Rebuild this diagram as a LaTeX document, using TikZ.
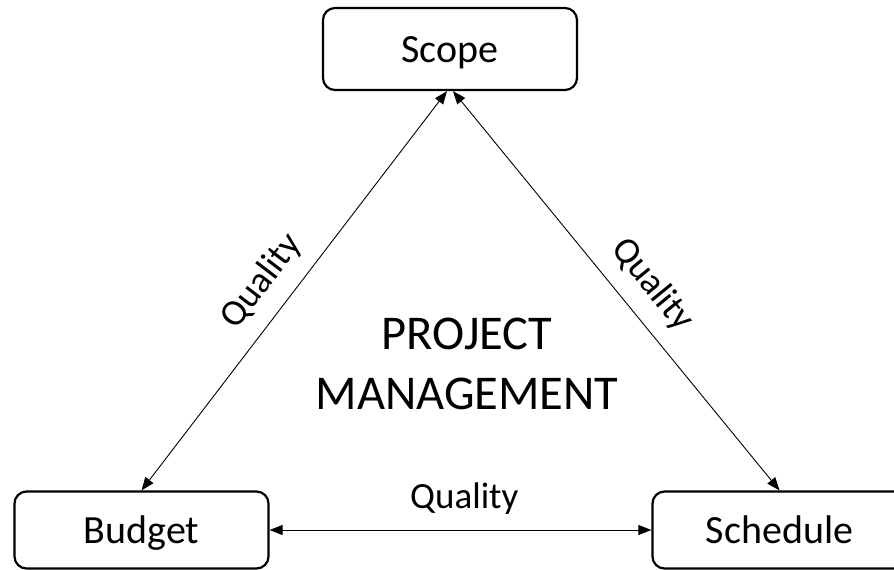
\documentclass[tikz,border=0pt]{standalone}
\usepackage{fontspec}
\setmainfont{Carlito}
\usetikzlibrary{arrows.meta}

\begin{document}
\begin{tikzpicture}[
        x=1pt, y=-1pt,
        box/.style={draw, line width=2.2pt, rounded corners=12pt, minimum width=254pt, text height=26pt, text depth=0pt, font=\fontsize{40}{48}\selectfont},
        link/.style={{Triangle[length=13pt,width=10pt]}-{Triangle[length=13pt,width=10pt]}, line width=0.9pt},
        lbl/.style={font=\fontsize{37}{44}\selectfont, sloped, above=12pt},
        c/.style={align=center}
    ]
        \clip (0,0) rectangle (894,570);

        \node[box, minimum height=82pt] (scope) at (450,49) {Scope};
        \node[box, minimum height=77pt] (budget) at (141.5,530) {Budget};
        \node[box, minimum height=77pt] (schedule) at (779.5,530) {Schedule};

        \node[c, font=\fontsize{48.5}{60}\selectfont] (pm) at (467,364) {PROJECT\\MANAGEMENT};

        % both arrows meet under the scope box
        \coordinate (tipL) at ([xshift=-3pt]scope.south);
        \coordinate (tipR) at ([xshift=3pt]scope.south);

        \draw[link] (tipL) -- node[lbl, pos=0.525] {Quality} (budget.north);
        \draw[link] (tipR) -- node[lbl, pos=0.535] {Quality} (schedule.north);
        \draw[link] (budget.east) -- node[lbl, pos=0.51] {Quality} (schedule.west);
    \end{tikzpicture}
\end{document}
